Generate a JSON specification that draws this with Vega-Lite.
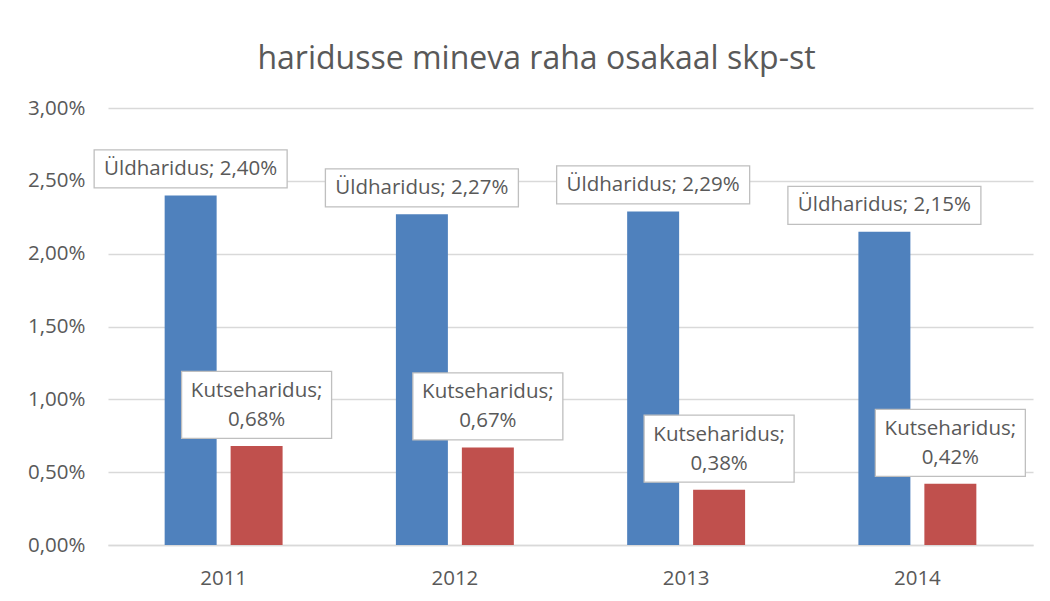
{
  "$schema": "https://vega.github.io/schema/vega-lite/v6.json",
  "width": 925,
  "height": 437,
  "autosize": "none",
  "padding": {"left": 108, "top": 108, "right": 17, "bottom": 56},
  "background": "white",
  "title": {
    "text": "haridusse mineva raha osakaal skp-st",
    "font": "Open Sans",
    "fontSize": 32,
    "fontWeight": "normal",
    "color": "#595959",
    "anchor": "middle",
    "dx": -34,
    "baseline": "alphabetic",
    "offset": -3
  },
  "config": {
    "locale": {"number": {"decimal": ",", "thousands": " ", "grouping": [3], "currency": ["", " €"]}},
    "view": {"stroke": null},
    "font": "Open Sans"
  },
  "data": {
    "values": [
      {"year": "2011", "series": "Üldharidus", "value": 0.0240, "lbl": "Üldharidus; 2,40%"},
      {"year": "2012", "series": "Üldharidus", "value": 0.0227, "lbl": "Üldharidus; 2,27%"},
      {"year": "2013", "series": "Üldharidus", "value": 0.0229, "lbl": "Üldharidus; 2,29%"},
      {"year": "2014", "series": "Üldharidus", "value": 0.0215, "lbl": "Üldharidus; 2,15%"},
      {"year": "2011", "series": "Kutseharidus", "value": 0.0068, "lbl": ["Kutseharidus;", "0,68%"]},
      {"year": "2012", "series": "Kutseharidus", "value": 0.0067, "lbl": ["Kutseharidus;", "0,67%"]},
      {"year": "2013", "series": "Kutseharidus", "value": 0.0038, "lbl": ["Kutseharidus;", "0,38%"]},
      {"year": "2014", "series": "Kutseharidus", "value": 0.0042, "lbl": ["Kutseharidus;", "0,42%"]}
    ]
  },
  "encoding": {
    "x": {
      "field": "year", "type": "nominal",
      "scale": {"paddingInner": 0.49, "paddingOuter": 0.245},
      "axis": {
        "title": null, "labelAngle": 0, "ticks": false, "tickSize": 0,
        "labelPadding": 23, "labelFontSize": 20.5, "labelColor": "#595959",
        "labelFont": "Open Sans",
        "domainColor": "#d9d9d9", "domainWidth": 1.3
      }
    },
    "xOffset": {
      "field": "series", "type": "nominal",
      "scale": {"domain": ["Üldharidus", "Kutseharidus"], "paddingInner": 0.212, "paddingOuter": 0}
    },
    "y": {
      "field": "value", "type": "quantitative",
      "scale": {"domain": [0, 0.03], "nice": false},
      "axis": {
        "title": null, "values": [0, 0.005, 0.01, 0.015, 0.02, 0.025, 0.03],
        "format": ".2%", "domain": false, "ticks": false, "labelPadding": 23,
        "labelFontSize": 20.5, "labelColor": "#595959", "labelFont": "Open Sans",
        "gridColor": "#d9d9d9", "gridWidth": 1.3
      }
    }
  },
  "layer": [
    {
      "mark": {"type": "bar"},
      "encoding": {
        "color": {
          "field": "series", "type": "nominal",
          "scale": {"domain": ["Üldharidus", "Kutseharidus"], "range": ["#4F81BD", "#C0504D"]},
          "legend": null
        }
      }
    },
    {
      "transform": [{"filter": "datum.series === 'Üldharidus'"}],
      "mark": {
        "type": "point", "filled": false, "fill": "white", "fillOpacity": 1,
        "stroke": "#bfbfbf", "strokeWidth": 1.3, "opacity": 1,
        "shape": "M-1,-0.197L1,-0.197L1,0.197L-1,0.197Z",
        "size": 37249, "yOffset": -26.5
      }
    },
    {
      "transform": [{"filter": "datum.series === 'Üldharidus'"}],
      "mark": {
        "type": "text", "font": "Open Sans", "fontSize": 20.5, "color": "#595959",
        "align": "center", "baseline": "middle", "yOffset": -26.5
      },
      "encoding": {"text": {"field": "lbl"}}
    },
    {
      "transform": [{"filter": "datum.series === 'Kutseharidus'"}],
      "mark": {
        "type": "point", "filled": false, "fill": "white", "fillOpacity": 1,
        "stroke": "#bfbfbf", "strokeWidth": 1.3, "opacity": 1,
        "shape": "M-1,-0.4467L1,-0.4467L1,0.4467L-1,0.4467Z",
        "size": 22500, "yOffset": -41
      }
    },
    {
      "transform": [{"filter": "datum.series === 'Kutseharidus'"}],
      "mark": {
        "type": "text", "font": "Open Sans", "fontSize": 20.5, "color": "#595959",
        "align": "center", "baseline": "middle", "lineHeight": 29, "yOffset": -55
      },
      "encoding": {"text": {"field": "lbl"}}
    }
  ]
}
